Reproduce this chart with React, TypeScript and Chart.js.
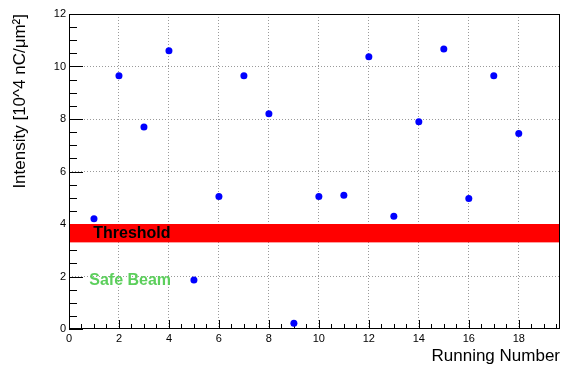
import React, { useEffect, useRef } from 'react';
import { Chart, registerables } from 'chart.js';

Chart.register(...registerables);

// ---- data ----
const runNumbers = [1, 2, 3, 4, 5, 6, 7, 8, 9, 10, 11, 12, 13, 14, 15, 16, 17, 18];
const intensities = [4.2, 9.65, 7.7, 10.6, 1.87, 5.05, 9.65, 8.2, 0.22, 5.05, 5.1, 10.37, 4.3, 7.9, 10.67, 4.97, 9.65, 7.45];
const xRange = [0, 19.65];
const yRange = [0, 12];
const majorStep = 2;
const minorStep = 0.5;
const thresholdBand = [3.3, 4.0];
const annotationTexts = ['Threshold', 'Safe Beam'];
const annotationX = [0.97, 0.81];
const annotationY = [3.455, 1.676];
const annotationColors = ['#000000', '#5ccf5c'];
const xTitle = 'Running Number';
const yTitle = 'Intensity [10^4 nC/μm²]';

const FONT = "'Liberation Sans', Arial, Helvetica, sans-serif";
const RIGHT_MARGIN = 2;

const rootStyle = {
  id: 'rootStyle',
  afterLayout(chart: any) {
    const x = chart.scales.x;
    const right = chart.width - RIGHT_MARGIN;
    chart.chartArea.right = right;
    chart.chartArea.width = right - chart.chartArea.left;
    x.right = right;
    x.width = right - x.left;
    x.configure();
  },
  beforeDatasetsDraw(chart: any) {
    const { ctx, chartArea: a, scales } = chart;
    const x = scales.x;
    const y = scales.y;
    ctx.save();
    ctx.strokeStyle = '#000';
    ctx.lineWidth = 1;
    ctx.beginPath();
    const nx = Math.floor((xRange[1] - xRange[0]) / minorStep + 1e-9);
    for (let i = 0; i <= nx; i++) {
      const v = xRange[0] + i * minorStep;
      const px = Math.round(x.getPixelForValue(v)) + 0.5;
      const len = Math.abs(v % majorStep) < 1e-9 ? 9 : 5;
      ctx.moveTo(px, a.bottom);
      ctx.lineTo(px, a.bottom - len);
    }
    const ny = Math.floor((yRange[1] - yRange[0]) / minorStep + 1e-9);
    for (let i = 0; i <= ny; i++) {
      const v = yRange[0] + i * minorStep;
      const py = Math.round(y.getPixelForValue(v)) + 0.5;
      const len = Math.abs(v % majorStep) < 1e-9 ? 14 : 8;
      ctx.moveTo(a.left, py);
      ctx.lineTo(a.left + len, py);
    }
    ctx.stroke();
    // threshold band
    const top = y.getPixelForValue(thresholdBand[1]);
    const bot = y.getPixelForValue(thresholdBand[0]);
    ctx.fillStyle = '#ff0000';
    ctx.fillRect(a.left, top, a.right - a.left, bot - top);
    ctx.restore();
  },
  afterDatasetsDraw(chart: any) {
    const { ctx, chartArea: a, scales } = chart;
    const x = scales.x;
    const y = scales.y;
    ctx.save();
    ctx.font = `bold 16px ${FONT}`;
    ctx.textAlign = 'left';
    ctx.textBaseline = 'alphabetic';
    annotationTexts.forEach((t, i) => {
      ctx.fillStyle = annotationColors[i];
      ctx.fillText(t, x.getPixelForValue(annotationX[i]), y.getPixelForValue(annotationY[i]));
    });
    ctx.strokeStyle = '#000';
    ctx.lineWidth = 1;
    ctx.strokeRect(a.left + 0.5, a.top + 0.5, a.right - a.left - 1, a.bottom - a.top - 1);
    ctx.restore();
  },
};

export default function App() {
  const ref = useRef<HTMLCanvasElement | null>(null);
  useEffect(() => {
    if (!ref.current) return;
    const chart = new Chart(ref.current, {
      type: 'scatter',
      data: {
        datasets: [
          {
            data: runNumbers.map((r, i) => ({ x: r, y: intensities[i] })),
            backgroundColor: '#0000ff',
            borderWidth: 0,
            pointRadius: 3.5,
          },
        ],
      },
      options: {
        animation: false,
        responsive: false,
        devicePixelRatio: 1,
        layout: { padding: { top: 14, right: RIGHT_MARGIN, left: 0, bottom: 0 } },
        plugins: { legend: { display: false }, tooltip: { enabled: false } },
        scales: {
          x: {
            type: 'linear',
            min: xRange[0],
            max: xRange[1],
            afterFit: (s: any) => { s.height = 38; },
            ticks: {
              stepSize: majorStep,
              includeBounds: false,
              color: '#000',
              padding: 3,
              font: { family: FONT, size: 11 },
              maxRotation: 0,
            },
            grid: {
              drawTicks: false,
              tickLength: 0,
              color: (c: any) => (c.tick && (c.tick.value === xRange[0] || c.tick.value === xRange[1]) ? 'rgba(0,0,0,0)' : '#9a9a9a'),
              lineWidth: 1,
            },
            border: { display: false, dash: [1, 2] },
            title: {
              display: true,
              text: xTitle,
              align: 'end',
              color: '#000',
              font: { family: FONT, size: 17 },
              padding: { top: 0, bottom: 0 },
            },
          },
          y: {
            type: 'linear',
            min: yRange[0],
            max: yRange[1],
            afterFit: (s: any) => { s.width = 69; },
            ticks: {
              stepSize: majorStep,
              color: '#000',
              padding: 3,
              font: { family: FONT, size: 11 },
            },
            grid: {
              drawTicks: false,
              tickLength: 0,
              color: (c: any) => (c.tick && (c.tick.value === yRange[0] || c.tick.value === yRange[1]) ? 'rgba(0,0,0,0)' : '#9a9a9a'),
              lineWidth: 1,
            },
            border: { display: false, dash: [1, 2] },
            title: {
              display: true,
              text: yTitle,
              align: 'end',
              color: '#000',
              font: { family: FONT, size: 17 },
              padding: { top: 10, bottom: 0 },
            },
          },
        },
      },
      plugins: [rootStyle],
    } as any);
    return () => chart.destroy();
  }, []);
  return (
    <div style={{ position: 'absolute', left: 0, top: 0, width: 562, height: 367, background: '#fff' }}>
      <canvas ref={ref} width={562} height={367} style={{ display: 'block', width: 562, height: 367 }} />
    </div>
  );
}
